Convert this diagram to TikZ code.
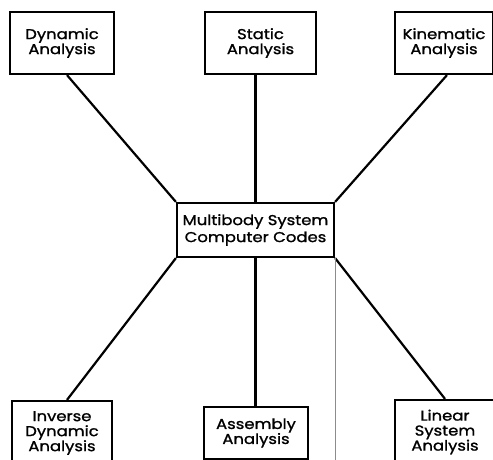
\documentclass[tikz,border=0pt]{standalone}
\usepackage{fontspec}
\setmainfont{Poppins}
\newfontfamily\boxfont{Poppins}[FakeBold=1.2,FakeStretch=1.15]
\usetikzlibrary{calc}
\begin{document}
\begin{tikzpicture}[x=1pt,y=-1pt,
  box/.style={draw=black,line width=2.2pt,fill=white,rectangle,inner sep=0pt,
    align=center,font=\boxfont\fontsize{14.3}{15}\selectfont},
  hub/.style={box,font=\boxfont\fontsize{14.3}{17}\selectfont},
  link/.style={line width=2.2pt,draw=black},
  seam/.style={line width=0.6pt,draw=black!45}]
\useasboundingbox[fill=white] (0,0) rectangle (493,460);

% outer analysis boxes
\node[box,minimum width=104pt,minimum height=62pt] (dyn) at (62,43) {Dynamic\\Analysis};
\node[box,minimum width=111pt,minimum height=62pt] (stat) at (260.5,43) {Static\\Analysis};
\node[box,minimum width=98pt,minimum height=62pt] (kin) at (444,43) {Kinematic\\Analysis};
\node[box,minimum width=100pt,minimum height=64pt] (inv) at (62,433) {Inverse\\Dynamic\\Analysis};
\node[box,minimum width=104pt,minimum height=52pt] (asm) at (256,433) {Assembly\\Analysis};
\node[box,minimum width=100pt,minimum height=64pt] (lin) at (445,432) {Linear\\System\\Analysis};

% central node
\node[hub,minimum width=157pt,minimum height=54pt] (mbs) at (255.5,230) {Multibody System\\Computer Codes};

% connectors
\draw[link] ($(dyn.south)+(5,0)$) -- (mbs.north west);
\draw[link] (stat.south -| mbs.north) -- (mbs.north);
\draw[link] ($(kin.south)+(3,0)$) -- (mbs.north east);
\draw[link] (mbs.south west) -- ($(inv.north)+(5,0)$);
\draw[link] (mbs.south) -- (mbs.south |- asm.north);
\draw[link] (mbs.south east) -- (lin.north);

% faint vertical seam below the central box
\coordinate (seamend) at ($(mbs.south east)+(0,203)$);
\draw[seam] (mbs.south east) -- (seamend);
\end{tikzpicture}
\end{document}
